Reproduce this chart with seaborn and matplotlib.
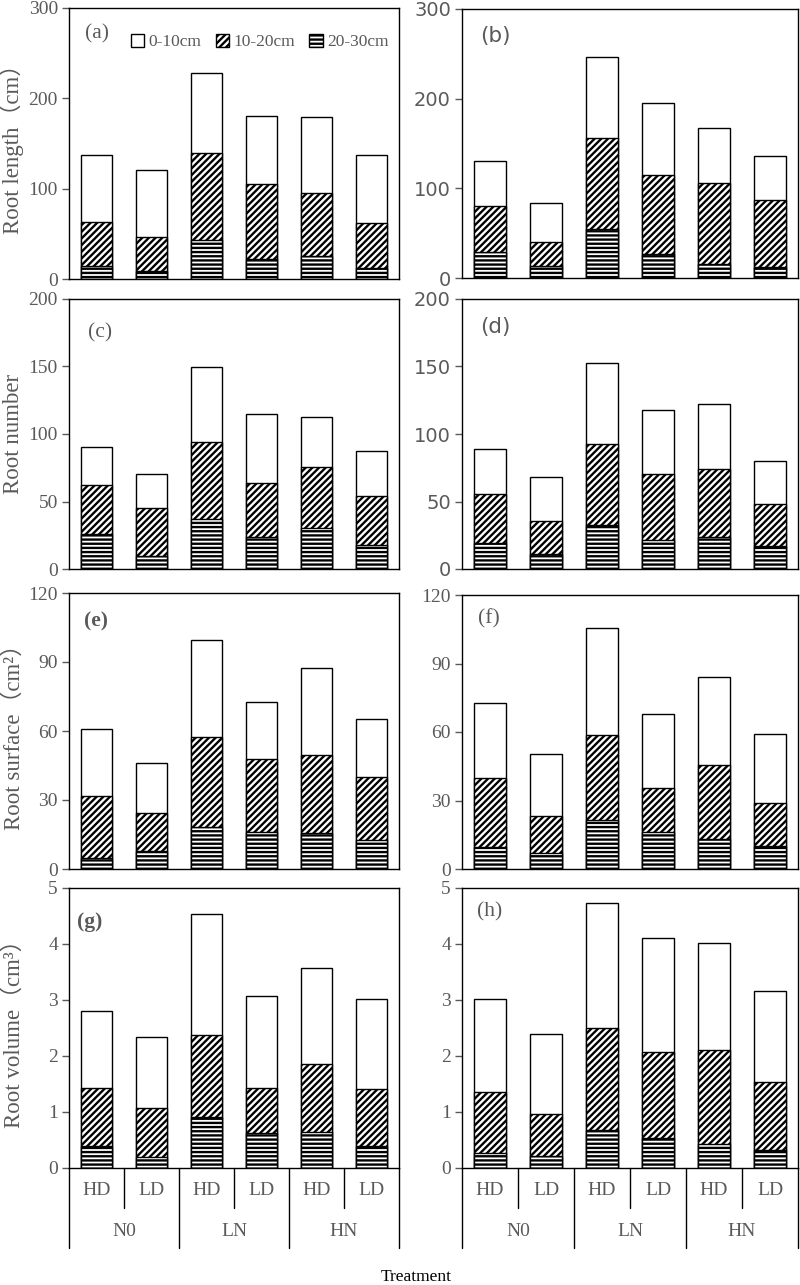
import numpy as np
import matplotlib
matplotlib.use('Agg')
import matplotlib.pyplot as plt
import matplotlib.patches as mpatches
import matplotlib.transforms as mtransforms
import seaborn as sns

treatments = ['N0-HD', 'N0-LD', 'LN-HD', 'LN-LD', 'HN-HD', 'HN-LD']
density_labels = ['HD', 'LD', 'HD', 'LD', 'HD', 'LD']
nitrogen_labels = ['N0', 'LN', 'HN']
depth_labels = ['0-10cm', '10-20cm', '20-30cm']

# root length (cm) per soil layer
length_a_0_10 = [74.0, 73.5, 88.5, 75.5, 84.0, 75.7]
length_a_10_20 = [48.4, 38.0, 96.0, 83.4, 69.4, 49.6]
length_a_20_30 = [14.6, 9.0, 43.0, 21.6, 25.6, 12.4]
length_b_0_10 = [50.8, 44.0, 90.2, 80.9, 61.5, 49.2]
length_b_10_20 = [51.0, 26.2, 101.4, 87.6, 89.5, 74.5]
length_b_20_30 = [29.0, 13.8, 54.4, 27.2, 16.0, 12.0]

# root number per soil layer
number_c_0_10 = [27.9, 25.6, 55.3, 50.9, 36.8, 33.2]
number_c_10_20 = [36.8, 35.6, 57.3, 39.7, 45.4, 36.0]
number_c_20_30 = [25.7, 9.4, 37.0, 24.0, 30.4, 18.0]
number_d_0_10 = [33.3, 32.3, 60.5, 47.1, 48.2, 31.9]
number_d_10_20 = [36.3, 24.5, 60.0, 49.2, 50.6, 31.1]
number_d_20_30 = [19.3, 11.1, 32.3, 21.2, 23.7, 17.0]

# root surface (cm2) per soil layer
surface_e_0_10 = [29.2, 21.9, 42.4, 24.4, 37.7, 25.4]
surface_e_10_20 = [26.8, 16.6, 39.1, 31.7, 33.8, 27.4]
surface_e_20_30 = [4.9, 7.8, 18.2, 16.3, 15.7, 12.6]
surface_f_0_10 = [32.5, 27.1, 46.7, 32.3, 38.6, 30.3]
surface_f_10_20 = [30.3, 16.3, 37.1, 19.4, 32.4, 18.7]
surface_f_20_30 = [9.7, 7.1, 21.6, 16.0, 13.0, 10.1]

# root volume (cm3) per soil layer
volume_g_0_10 = [1.37, 1.27, 2.16, 1.64, 1.73, 1.60]
volume_g_10_20 = [1.03, 0.88, 1.46, 0.81, 1.20, 1.01]
volume_g_20_30 = [0.40, 0.19, 0.91, 0.62, 0.65, 0.40]
volume_h_0_10 = [1.65, 1.42, 2.23, 2.04, 1.91, 1.62]
volume_h_10_20 = [1.09, 0.75, 1.83, 1.54, 1.67, 1.21]
volume_h_20_30 = [0.27, 0.22, 0.67, 0.53, 0.43, 0.33]

sns.set_style('ticks')
plt.rcParams['font.family'] = ['Liberation Serif', 'Noto Sans CJK SC']
plt.rcParams['hatch.linewidth'] = 1.7

GRAY = '#5a5a5a'
SERIF = ['Liberation Serif', 'Noto Sans CJK SC']
SANS = ['DejaVu Sans', 'Noto Sans CJK SC']
HATCHES = ['', '/////', '----']

W, H = 800, 1285
fig = plt.figure(figsize=(8, 12.85), dpi=100)

# pixel boxes (left, top, right, bottom)
boxes = {
    'a': (69, 8, 399, 279), 'b': (462, 9, 798, 278),
    'c': (69, 299, 399, 569), 'd': (462, 299, 798, 569),
    'e': (69, 593, 399, 869), 'f': (462, 595, 798, 869),
    'g': (69, 888, 399, 1168), 'h': (462, 888, 798, 1168),
}

panels = [
    ('a', length_a_0_10, length_a_10_20, length_a_20_30, 300, 100, 'Root length（cm）', SERIF, False, (0.05, 0.905)),
    ('b', length_b_0_10, length_b_10_20, length_b_20_30, 300, 100, None, SANS, False, (0.054, 0.9)),
    ('c', number_c_0_10, number_c_10_20, number_c_20_30, 200, 50, 'Root number', SERIF, False, (0.058, 0.874)),
    ('d', number_d_0_10, number_d_10_20, number_d_20_30, 200, 50, None, SANS, False, (0.054, 0.896)),
    ('e', surface_e_0_10, surface_e_10_20, surface_e_20_30, 120, 30, 'Root surface（cm²）', SERIF, True, (0.044, 0.895)),
    ('f', surface_f_0_10, surface_f_10_20, surface_f_20_30, 120, 30, None, SERIF, False, (0.048, 0.913)),
    ('g', volume_g_0_10, volume_g_10_20, volume_g_20_30, 5, 1, 'Root volume（cm³）', SERIF, True, (0.024, 0.879)),
    ('h', volume_h_0_10, volume_h_10_20, volume_h_20_30, 5, 1, None, SERIF, False, (0.045, 0.914)),
]

for letter, top, mid, bottom, ymax, step, ylabel, fam, bold, letter_pos in panels:
    l, t, r, b = boxes[letter]
    ax = fig.add_axes([l / W, 1 - b / H, (r - l) / W, (b - t) / H])

    # stack: draw the full bar first, then the two lower layers over it
    cum_bottom = np.array(bottom)
    cum_mid = cum_bottom + np.array(mid)
    cum_top = cum_mid + np.array(top)
    for vals, hatch in zip([cum_top, cum_mid, cum_bottom], HATCHES):
        sns.barplot(x=treatments, y=vals, ax=ax, color='white', saturation=1,
                    edgecolor='black', linewidth=1, width=0.58, hatch=hatch,
                    errorbar=None)

    ax.set_xlim(-0.5, 5.5)
    ax.set_ylim(0, ymax)
    ax.set_yticks(np.arange(0, ymax + step * 0.5, step))
    ax.set_ylabel('')
    for s in ax.spines.values():
        s.set_visible(True)
        s.set_color('black')
        s.set_linewidth(1)
    ax.tick_params(axis='y', direction='out', length=5, width=1, color=GRAY,
                   labelcolor=GRAY, labelsize=14, pad=3)
    for lab in ax.get_yticklabels():
        lab.set_fontfamily(fam)

    ax.text(letter_pos[0], letter_pos[1], f'({letter})', transform=ax.transAxes,
            ha='left', va='center', fontsize=15.5, color=GRAY, family=fam,
            fontweight='bold' if bold else 'normal')

    if ylabel:
        ax.set_ylabel(ylabel, fontsize=16.5, color=GRAY, family=SERIF)
        ax.yaxis.set_label_coords(-0.135, 0.5)

    if letter in ('g', 'h'):
        ax.set_xticks(range(len(treatments)))
        ax.set_xticklabels(density_labels)
        ax.tick_params(axis='x', length=0, pad=10, labelsize=14, labelcolor=GRAY)
        blend = mtransforms.blended_transform_factory(ax.transData, ax.transAxes)
        for x in [0.5, 2.5, 4.5]:
            ax.plot([x, x], [0, -40 / 280], color='black', lw=1,
                    transform=blend, clip_on=False)
        for x in [-0.5, 1.5, 3.5, 5.5]:
            ax.plot([x, x], [0, -80 / 280], color='black', lw=1,
                    transform=blend, clip_on=False)
        for i, name in enumerate(nitrogen_labels):
            ax.text(2 * i + 0.5, -64 / 280, name, transform=blend, ha='center',
                    va='center', fontsize=14, color=GRAY)
    else:
        ax.set_xticks([])
    ax.set_xlabel('')

    if letter == 'a':
        handles = [mpatches.Patch(facecolor='white', edgecolor='black', hatch=h, lw=1)
                   for h in HATCHES]
        ax.legend(handles, depth_labels, loc='center', bbox_to_anchor=(0.578, 0.875),
                  ncol=3, frameon=False, fontsize=12.5, handlelength=0.8,
                  handleheight=0.8, handletextpad=0.25, columnspacing=0.8,
                  labelcolor=GRAY)

fig.text(416 / W, 1 - 1277 / H, 'Treatment', ha='center', va='center',
         fontsize=12.5, color='black')

fig.savefig('out.png', dpi=100)
